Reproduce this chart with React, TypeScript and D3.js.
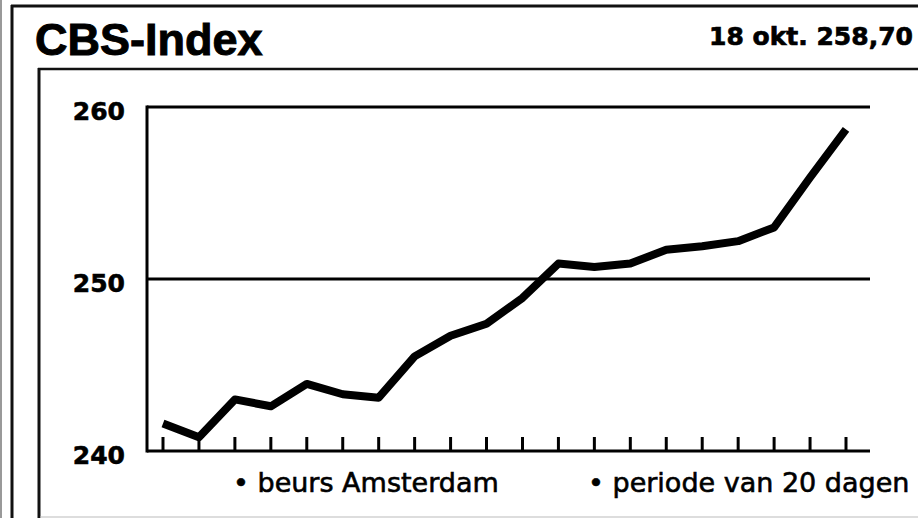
import React from "react";
import * as d3 from "d3";

const title = "CBS-Index";
const stamp = "18 okt. 258,70";
const days = d3.range(1, 21);
const values = [241.6, 240.8, 243.0, 242.6, 243.9, 243.3, 243.1, 245.5, 246.7, 247.4, 248.9, 250.9, 250.7, 250.9, 251.7, 251.9, 252.2, 253.0, 255.9, 258.7];
const yTicks = [240, 250, 260];
const legendItems = ["• beurs Amsterdam", "• periode van 20 dagen"];

export default function App() {
  const W = 918, H = 518;
  const x = d3.scaleLinear().domain([1, 20]).range([163, 846]);
  const y = d3.scaleLinear().domain([240, 260]).range([451, 107]);
  const line = d3.line<number>().x((_, i) => x(days[i])).y((d) => y(d));
  const axisLeft = 147, axisRight = 870;
  const font = "'DejaVu Sans', sans-serif";
  return (
    <svg width={W} height={H} style={{ position: "absolute", left: 0, top: 0, background: "#fff" }}>
      {/* frame */}
      <line x1={1} x2={1} y1={0} y2={H} stroke="#999" strokeWidth={2} />
      <line x1={12} x2={12} y1={5} y2={H} stroke="#111" strokeWidth={3} />
      <line x1={11} x2={W} y1={6} y2={6} stroke="#111" strokeWidth={3} />
      <line x1={38} x2={W} y1={69} y2={69} stroke="#111" strokeWidth={2.5} />
      <line x1={39} x2={39} y1={68} y2={H} stroke="#111" strokeWidth={3} />
      <line x1={40} x2={W} y1={517} y2={517} stroke="#bbb" strokeWidth={1} />

      <text x={35} y={55} fontFamily="'Liberation Sans', Arial, sans-serif" fontWeight="bold" fontSize={45} stroke="#000" strokeWidth={1} fill="#000">{title}</text>
      <text x={709} y={45} fontFamily={font} fontWeight="bold" fontSize={25} stroke="#000" strokeWidth={0.7} fill="#000">{stamp}</text>

      {/* grid lines */}
      {yTicks.map((t) => (
        <line key={t} x1={axisLeft} x2={axisRight} y1={y(t)} y2={y(t)} stroke="#000" strokeWidth={3} />
      ))}
      <line x1={axisLeft} x2={axisLeft} y1={y(260) - 1.5} y2={y(240) + 1.5} stroke="#000" strokeWidth={3} />
      {yTicks.map((t) => (
        <text key={"l" + t} x={125} y={y(t) + 4} textAnchor="end" dominantBaseline="central" fontFamily={font} fontWeight="bold" fontSize={25} stroke="#000" strokeWidth={0.6} fill="#000">{t}</text>
      ))}

      {/* ticks */}
      {days.map((d) => (
        <line key={"t" + d} x1={x(d)} x2={x(d)} y1={y(240)} y2={y(240) - 14} stroke="#000" strokeWidth={3} />
      ))}

      <path d={line(values) || ""} fill="none" stroke="#000" strokeWidth={8} strokeLinejoin="round" strokeLinecap="butt" />

      <text x={233} y={492} fontFamily={font} fontSize={27} stroke="#000" strokeWidth={0.6} fill="#000">{legendItems[0]}</text>
      <text x={588} y={492} fontFamily={font} fontSize={27} stroke="#000" strokeWidth={0.6} fill="#000">{legendItems[1]}</text>
    </svg>
  );
}
